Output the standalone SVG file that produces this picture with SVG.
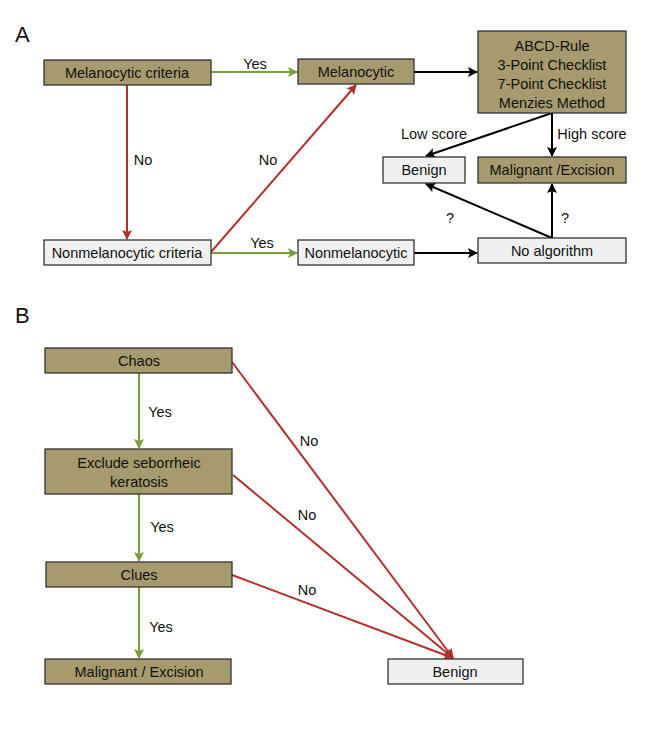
<svg xmlns="http://www.w3.org/2000/svg" width="670" height="742" viewBox="0 0 670 742">
<style>
text{font-family:"Liberation Sans",Arial,sans-serif;font-size:14.5px;fill:#111;text-anchor:middle}
.panel{font-size:22px;text-anchor:start}
.olive{fill:#a69a6e;stroke:#333;stroke-width:1.3}
.light{fill:#f0f0f0;stroke:#333;stroke-width:1.3}
.g{stroke:#77a03a;stroke-width:2;fill:none}
.r{stroke:#b0302e;stroke-width:2;fill:none}
.k{stroke:#000;stroke-width:2;fill:none}
</style>
<defs>
<marker id="ag" viewBox="0 0 10 10" refX="9" refY="5" markerWidth="5" markerHeight="5" orient="auto"><path d="M0,0L10,5L0,10L2,5Z" fill="#77a03a"/></marker>
<marker id="ar" viewBox="0 0 10 10" refX="9" refY="5" markerWidth="5" markerHeight="5" orient="auto"><path d="M0,0L10,5L0,10L2,5Z" fill="#b0302e"/></marker>
<marker id="ak" viewBox="0 0 10 10" refX="9" refY="5" markerWidth="5" markerHeight="5" orient="auto"><path d="M0,0L10,5L0,10L2,5Z" fill="#000"/></marker>
</defs>
<rect width="670" height="742" fill="#fff"/>
<text class="panel" x="15" y="42">A</text>
<text class="panel" x="15" y="323">B</text>

<g id="connectors">
<line class="g" x1="211" y1="72" x2="297" y2="72" marker-end="url(#ag)"/>
<line class="r" x1="127" y1="85" x2="127" y2="239" marker-end="url(#ar)"/>
<line class="r" x1="211" y1="252" x2="356" y2="85" marker-end="url(#ar)"/>
<line class="g" x1="211" y1="253" x2="297" y2="253" marker-end="url(#ag)"/>
<line class="k" x1="414" y1="72" x2="477" y2="72" marker-end="url(#ak)"/>
<line class="k" x1="414" y1="253" x2="477" y2="253" marker-end="url(#ak)"/>
<line class="k" x1="552" y1="113" x2="426" y2="156" marker-end="url(#ak)"/>
<line class="k" x1="552" y1="113" x2="552" y2="156" marker-end="url(#ak)"/>
<line class="k" x1="552" y1="238" x2="426" y2="184" marker-end="url(#ak)"/>
<line class="k" x1="552" y1="238" x2="552" y2="184" marker-end="url(#ak)"/>
<line class="g" x1="139" y1="373" x2="139" y2="448" marker-end="url(#ag)"/>
<line class="g" x1="139" y1="494" x2="139" y2="561" marker-end="url(#ag)"/>
<line class="g" x1="139" y1="587" x2="139" y2="658" marker-end="url(#ag)"/>
<line class="r" x1="232" y1="362" x2="453" y2="658" marker-end="url(#ar)"/>
<line class="r" x1="233" y1="475" x2="453" y2="658" marker-end="url(#ar)"/>
<line class="r" x1="232" y1="575" x2="453" y2="658" marker-end="url(#ar)"/>
<text x="255" y="69">Yes</text>
<text x="143" y="165">No</text>
<text x="268" y="165">No</text>
<text x="262" y="248">Yes</text>
<text x="434" y="139">Low score</text>
<text x="592" y="139">High score</text>
<text x="450" y="223">?</text>
<text x="565" y="223">?</text>
<text x="160" y="417">Yes</text>
<text x="162" y="532">Yes</text>
<text x="161" y="632">Yes</text>
<text x="309" y="446">No</text>
<text x="307" y="520">No</text>
<text x="307" y="595">No</text>
</g>

<g id="melanocytic-criteria"><rect class="olive" x="44" y="60" width="167" height="25"/><text x="127" y="78">Melanocytic criteria</text></g>
<g id="melanocytic"><rect class="olive" x="298" y="59" width="116" height="25"/><text x="356" y="77">Melanocytic</text></g>
<g id="algorithms"><rect class="olive" x="478" y="31" width="148" height="82"/>
<text x="552" y="51">ABCD-Rule</text><text x="552" y="70">3-Point Checklist</text><text x="552" y="89">7-Point Checklist</text><text x="552" y="108">Menzies Method</text></g>
<g id="benign-a"><rect class="light" x="383" y="157" width="82" height="26"/><text x="424" y="175">Benign</text></g>
<g id="malignant-a"><rect class="olive" x="478" y="157" width="148" height="26"/><text x="552" y="175">Malignant /Excision</text></g>
<g id="no-algorithm"><rect class="light" x="478" y="238" width="148" height="25"/><text x="552" y="256">No algorithm</text></g>
<g id="nonmelanocytic"><rect class="light" x="298" y="240" width="116" height="25"/><text x="356" y="258">Nonmelanocytic</text></g>
<g id="nonmelanocytic-criteria"><rect class="light" x="44" y="240" width="167" height="25"/><text x="127" y="258">Nonmelanocytic criteria</text></g>

<g id="chaos"><rect class="olive" x="45" y="348" width="187" height="25"/><text x="139" y="366">Chaos</text></g>
<g id="exclude-sk"><rect class="olive" x="45" y="449" width="187" height="45"/><text x="139" y="468">Exclude seborrheic</text><text x="139" y="487">keratosis</text></g>
<g id="clues"><rect class="olive" x="46" y="562" width="186" height="25"/><text x="139" y="580">Clues</text></g>
<g id="malignant-b"><rect class="olive" x="45" y="659" width="186" height="25"/><text x="139" y="677">Malignant / Excision</text></g>
<g id="benign-b"><rect class="light" x="388" y="659" width="135" height="25"/><text x="455" y="677">Benign</text></g>
</svg>
